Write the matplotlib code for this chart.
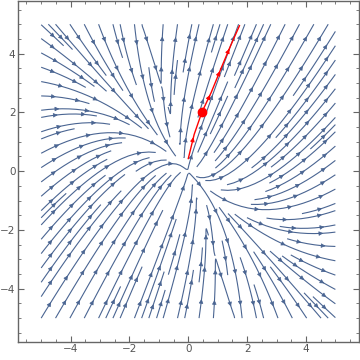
import numpy as np
import matplotlib
matplotlib.use("Agg")
import matplotlib.pyplot as plt
from matplotlib.patches import FancyArrowPatch

# vector field: x' = (y + p*x)^2 , y' = k*(y + a*x)*(y + b*x)
p_coef = 3.5
k_coef = 5.3
a_coef = 0.5
b_coef = 3.2

# red trajectory
red_x = [0.0, 0.2, 0.46, 0.78, 1.11, 1.43, 1.74]
red_y = [0.43, 1.25, 2.0, 2.68, 3.49, 4.25, 4.95]
start_x = 0.46
start_y = 2.0

ticks = [-4, -2, 0, 2, 4]

stream_color = "#4a6592"

xs = np.linspace(-5, 5, 201)
ys = np.linspace(-5, 5, 201)
X, Y = np.meshgrid(xs, ys)
U = (Y + p_coef * X) ** 2
V = k_coef * (Y + a_coef * X) * (Y + b_coef * X)

fig = plt.figure(figsize=(3.6, 3.6), dpi=100)
ax = fig.add_axes([0.049, 0.051, 0.948, 0.947])

sp = ax.streamplot(X, Y, U, V, density=1.4, color=stream_color, linewidth=0.8,
                   arrowsize=0.7, arrowstyle="-|>")
for patch in list(ax.patches):
    patch.remove()

# several arrowheads along every stream line, like Mathematica does
spacing = 1.1
for seg in sp.lines.get_segments():
    if len(seg) < 3:
        continue
    d = np.hypot(np.diff(seg[:, 0]), np.diff(seg[:, 1]))
    s = np.concatenate([[0], np.cumsum(d)])
    if s[-1] < 0.4:
        continue
    n = max(1, int(s[-1] / spacing + 0.5))
    marks = (np.arange(n) + 0.6) * s[-1] / n
    for m in marks:
        x1 = np.interp(m, s, seg[:, 0])
        y1 = np.interp(m, s, seg[:, 1])
        x0 = np.interp(m - 0.05, s, seg[:, 0])
        y0 = np.interp(m - 0.05, s, seg[:, 1])
        ax.add_patch(FancyArrowPatch((x0, y0), (x1, y1), arrowstyle="-|>",
                                     mutation_scale=6.5, color=stream_color,
                                     lw=0.5, shrinkA=0, shrinkB=0))

ax.plot(red_x, red_y, color="red", lw=1.0, zorder=5)
for i in [1, 3, 4, 5]:
    ax.annotate("", xy=(red_x[i], red_y[i]),
                xytext=(red_x[i - 1] + 0.7 * (red_x[i] - red_x[i - 1]),
                        red_y[i - 1] + 0.7 * (red_y[i] - red_y[i - 1])),
                arrowprops=dict(arrowstyle="-|>", color="red", lw=0.8,
                                mutation_scale=6), zorder=6)
ax.plot([start_x], [start_y], "o", color="red", ms=6, zorder=7)

ax.set_xlim(-5.8, 5.8)
ax.set_ylim(-5.8, 5.8)
ax.set_xticks(ticks)
ax.set_yticks(ticks)
ax.set_xticks(np.arange(-5.5, 6, 0.5), minor=True)
ax.set_yticks(np.arange(-5.5, 6, 0.5), minor=True)
ax.set_xticklabels(["\u22124", "\u22122", "0", "2", "4"])
ax.set_yticklabels(["\u22124", "\u22122", "0", "2", "4"])
ax.tick_params(which="both", direction="in", top=True, right=True,
               colors="#666666", labelsize=7.5, labelcolor="#555555")
ax.tick_params(which="major", length=4, pad=1.5)
ax.tick_params(which="minor", length=2.2)
for s in ax.spines.values():
    s.set_color("#666666")
    s.set_linewidth(1.0)

fig.savefig("out.png", dpi=100)
